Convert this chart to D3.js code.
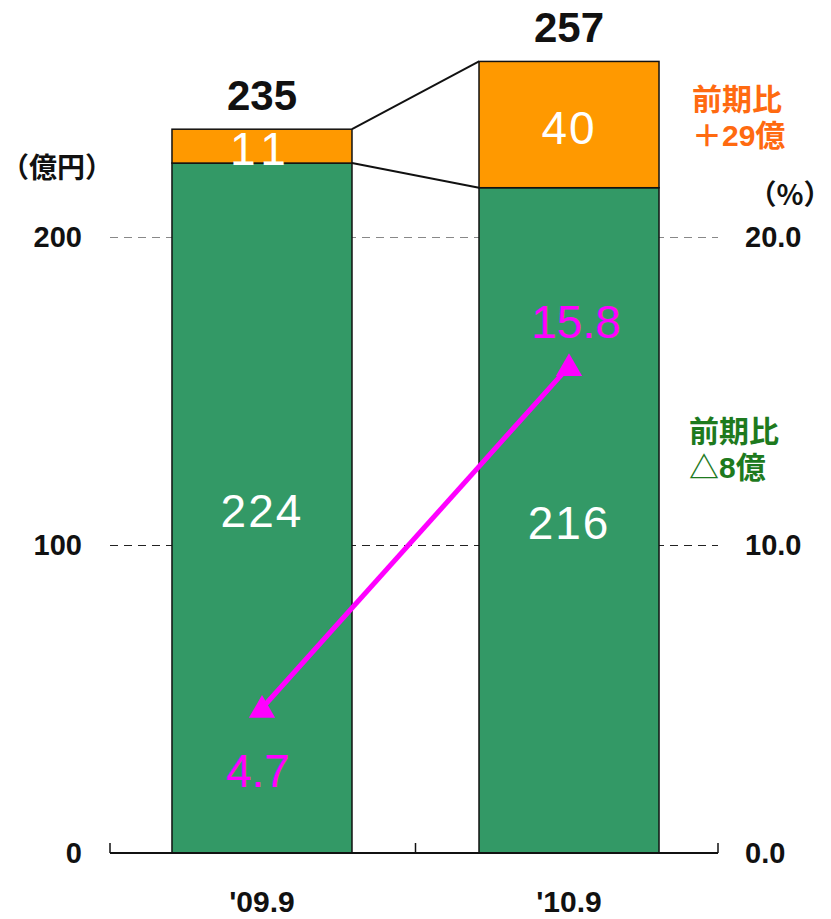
<!DOCTYPE html>
<html><head><meta charset="utf-8">
<script src="https://cdn.jsdelivr.net/npm/d3@7"></script>
<style>
html,body{margin:0;padding:0;background:#fff;}
svg{display:block;}
text{font-family:"Liberation Sans",Arial,"Noto Sans CJK JP",sans-serif;}
.jp{font-family:"Noto Sans CJK JP","Liberation Sans",sans-serif;}
.note{font-family:"Liberation Sans","Noto Sans CJK JP",sans-serif;}
</style></head>
<body>
<svg id="chart" width="831" height="919"></svg>
<script>
const categories = ["'09.9", "'10.9"];
const baseValues = [224, 216];      // green segment (億円)
const addValues = [11, 40];         // orange segment (億円)
const totalValues = [235, 257];     // totals as labelled
const ratioValues = [4.7, 15.8];    // %
const leftTicks = [0, 100, 200];
const rightTicks = [0, 10, 20];
const gridTicks = [100, 200];
const leftUnit = "（億円）";
const rightUnit = "（%）";
const noteOrange = ["前期比", "＋29億"];
const noteGreen = ["前期比", "△8億"];

const svg = d3.select("#chart");
const x0 = 110, x1 = 718, yBase = 853, yTop = 237;

const x = d3.scaleBand().domain(categories).range([x0 + 1.5, x1 + 1.5])
  .paddingInner(0.4137).paddingOuter(0.197);
const yL = d3.scaleLinear().domain([0, 200]).range([yBase, yTop]);
const yR = d3.scaleLinear().domain([0, 20]).range([yBase, yTop]);

const GREEN = "#339966", ORANGE = "#FF9900", MAG = "#FF00FF";

// gridlines
svg.append("g").selectAll("line").data(gridTicks).join("line")
  .attr("x1", x0).attr("x2", x1)
  .attr("y1", d => yL(d) + 0.5).attr("y2", d => yL(d) + 0.5)
  .attr("stroke", d => d === 200 ? "#888" : "#222")
  .attr("stroke-width", 1)
  .attr("stroke-dasharray", "8,6");

// bars
const data = categories.map((c, i) => ({c, base: baseValues[i], add: addValues[i], total: totalValues[i], ratio: ratioValues[i]}));
const bw = x.bandwidth();
const bars = svg.append("g");
bars.selectAll("rect.base").data(data).join("rect")
  .attr("x", d => x(d.c)).attr("width", bw)
  .attr("y", d => yL(d.base)).attr("height", d => yL(0) - yL(d.base))
  .attr("fill", GREEN).attr("stroke", "#111").attr("stroke-width", 1.5);
bars.selectAll("rect.add").data(data).join("rect")
  .attr("x", d => x(d.c)).attr("width", bw)
  .attr("y", d => yL(d.total)).attr("height", d => yL(d.base) - yL(d.total))
  .attr("fill", ORANGE).attr("stroke", "#111").attr("stroke-width", 1.5);

// connector lines
const a = data[0], b = data[1];
svg.append("line").attr("x1", x(a.c) + bw).attr("y1", yL(a.total))
  .attr("x2", x(b.c)).attr("y2", yL(b.total)).attr("stroke", "#111").attr("stroke-width", 2);
svg.append("line").attr("x1", x(a.c) + bw).attr("y1", yL(a.base))
  .attr("x2", x(b.c)).attr("y2", yL(b.base)).attr("stroke", "#111").attr("stroke-width", 2);

// baseline + ticks
svg.append("line").attr("x1", x0).attr("x2", x1).attr("y1", yBase).attr("y2", yBase)
  .attr("stroke", "#111").attr("stroke-width", 2);
const tickXs = [x0, (x(a.c) + bw + x(b.c)) / 2, x1];
svg.append("g").selectAll("line").data(tickXs).join("line")
  .attr("x1", d => d).attr("x2", d => d).attr("y1", yBase).attr("y2", yBase - 10)
  .attr("stroke", "#111").attr("stroke-width", 1.5);

// axes labels
const axL = svg.append("g").attr("transform", `translate(${x0},0)`)
  .call(d3.axisLeft(yL).tickValues(leftTicks).tickSize(0).tickPadding(28).tickFormat(d3.format("d")));
const axR = svg.append("g").attr("transform", `translate(${x1},0)`)
  .call(d3.axisRight(yR).tickValues(rightTicks).tickSize(0).tickPadding(27).tickFormat(d3.format(".1f")));
[axL, axR].forEach(g => {
  g.select(".domain").remove();
  g.selectAll("text").attr("font-size", 29).attr("font-weight", "bold").attr("fill", "#111")
    .attr("font-family", "Liberation Sans, Arial, sans-serif");
});

// x category labels
svg.append("g").selectAll("text").data(categories).join("text")
  .attr("x", d => x(d) + bw / 2).attr("y", 912)
  .attr("text-anchor", "middle").attr("font-size", 30).attr("font-weight", "bold")
  .attr("fill", "#111").text(d => d);

// units
svg.append("text").attr("class", "jp").attr("x", 57).attr("y", 178).attr("text-anchor", "middle")
  .attr("font-size", 28).attr("font-weight", "bold").attr("fill", "#111").text(leftUnit);
svg.append("text").attr("class", "jp").attr("x", 790).attr("y", 205).attr("text-anchor", "middle")
  .attr("font-size", 28).attr("font-weight", "bold").attr("fill", "#111").text(rightUnit);

// totals
svg.append("g").selectAll("text").data(data).join("text")
  .attr("x", d => x(d.c) + bw / 2).attr("y", d => yL(d.total) - 19)
  .attr("text-anchor", "middle").attr("font-size", 42).attr("font-weight", "bold")
  .attr("fill", "#111").text(d => d.total);

// segment labels
svg.append("g").selectAll("text").data(data).join("text")
  .attr("x", d => x(d.c) + bw / 2).attr("y", d => (yL(0) + yL(d.base)) / 2 + 19)
  .attr("text-anchor", "middle").attr("font-size", 46)
  .attr("fill", "#fff").attr("letter-spacing", 2).text(d => d.base);
svg.append("g").selectAll("text").data(data).join("text")
  .attr("x", d => x(d.c) + bw / 2).attr("y", d => (yL(d.base) + yL(d.total)) / 2 + 19)
  .attr("text-anchor", "middle").attr("font-size", 46)
  .attr("fill", "#fff").attr("letter-spacing", d => d.add === 11 ? 8 : 2).text(d => d.add);

// ratio line
const line = d3.line().x(d => x(d.c) + bw / 2).y(d => yR(d.ratio));
svg.append("path").datum(data).attr("d", line)
  .attr("fill", "none").attr("stroke", MAG).attr("stroke-width", 5);
svg.append("g").selectAll("path").data(data).join("path")
  .attr("transform", d => `translate(${x(d.c) + bw / 2},${yR(d.ratio) + 2})`)
  .attr("d", d3.symbol(d3.symbolTriangle, 300))
  .attr("fill", MAG);
svg.append("g").selectAll("text").data(data).join("text")
  .attr("x", (d, i) => x(d.c) + bw / 2 + (i === 0 ? -4 : 7))
  .attr("y", (d, i) => i === 0 ? yR(d.ratio) + 79 : yR(d.ratio) - 28)
  .attr("text-anchor", "middle").attr("font-size", 46)
  .attr("fill", MAG).text(d => d3.format(".1f")(d.ratio));

// notes
svg.append("g").selectAll("text").data(noteOrange).join("text")
  .attr("class", "note").attr("x", 692).attr("y", (d, i) => 110 + i * 36)
  .attr("font-size", 30).attr("font-weight", "bold")
  .attr("fill", "#FF6A10").text(d => d);
svg.append("g").selectAll("text").data(noteGreen).join("text")
  .attr("class", "note").attr("x", 689).attr("y", (d, i) => 442 + i * 36)
  .attr("font-size", 30).attr("font-weight", "bold")
  .attr("fill", "#1E7A1E").text(d => d);
</script>
</body></html>
